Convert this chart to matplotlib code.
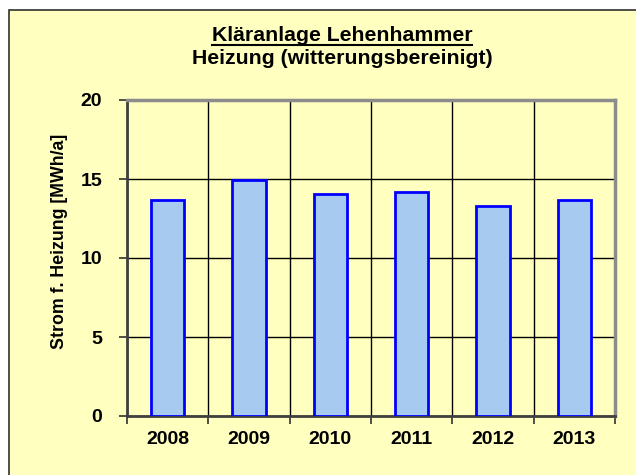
import matplotlib
matplotlib.use("Agg")
import matplotlib.pyplot as plt
from matplotlib.patches import Rectangle
from matplotlib.lines import Line2D

plt.rcParams['font.family'] = ['Liberation Sans', 'DejaVu Sans']
plt.rcParams['font.weight'] = 'bold'

# data
years = ['2008', '2009', '2010', '2011', '2012', '2013']
strom = [13.7, 14.95, 14.05, 14.2, 13.3, 13.7]
yticks = [0, 5, 10, 15, 20]

bg = '#FFFFC0'
W, H = 636, 475
fig = plt.figure(figsize=(W / 100, H / 100), dpi=100)
fig.patch.set_facecolor('white')

# outer chart frame (runs off the right and bottom edge)
fig.patches.append(Rectangle((9 / W, -0.1), 1.1, 1 - 10 / H + 0.1,
                             transform=fig.transFigure, facecolor=bg,
                             edgecolor='#303030', linewidth=1.2, zorder=-5))

ax = fig.add_axes([127 / W, 1 - 416 / H, 488 / W, 316 / H])
ax.set_facecolor(bg)
ax.set_zorder(2)

x = list(range(len(years)))
ax.bar(x, strom, width=0.41, color='#A6CAF0', edgecolor='#0000FF',
       linewidth=2, zorder=3)

ax.set_xlim(-0.5, len(years) - 0.5)
ax.set_ylim(0, 20)
ax.set_yticks(yticks)
ax.set_yticklabels([str(v) for v in yticks])
ax.set_xticks(x)
ax.set_xticklabels(years)
ax.set_xticks([i - 0.5 for i in range(len(years) + 1)], minor=True)

ax.tick_params(axis='x', which='major', length=0, pad=11, labelsize=14)
ax.tick_params(axis='x', which='minor', length=6, width=1.2, color='#303030')
ax.tick_params(axis='y', which='major', length=6, width=1.2, color='#303030',
               pad=12, labelsize=14)

ax.grid(True, axis='y', which='major', color='black', linewidth=1, zorder=1)
ax.grid(True, axis='x', which='minor', color='black', linewidth=1, zorder=1)
ax.set_axisbelow(True)

for s in ['left', 'bottom']:
    ax.spines[s].set_color('#404040')
    ax.spines[s].set_linewidth(2)
for s in ['top', 'right']:
    ax.spines[s].set_color('#8C8C8C')
    ax.spines[s].set_linewidth(2.5)

ax.set_ylabel('Strom f. Heizung [MWh/a]', fontsize=12.8, fontweight='bold')
ax.yaxis.set_label_coords((68 - 127) / 488, (416 - 241.5) / 316)

# title, first line underlined
t1 = fig.text(342 / W, 1 - 41 / H, 'Kläranlage Lehenhammer', ha='center',
              va='baseline', fontsize=15.3, fontweight='bold')
fig.text(342 / W, 1 - 64.5 / H, 'Heizung (witterungsbereinigt)', ha='center',
         va='baseline', fontsize=15.3, fontweight='bold')

fig.canvas.draw()
bb = t1.get_window_extent().transformed(fig.transFigure.inverted())
uy = 1 - 44.5 / H
fig.lines.append(Line2D([bb.x0, bb.x1], [uy, uy], transform=fig.transFigure,
                        color='black', linewidth=1.5))

fig.savefig('out.png', dpi=100, facecolor='white')
